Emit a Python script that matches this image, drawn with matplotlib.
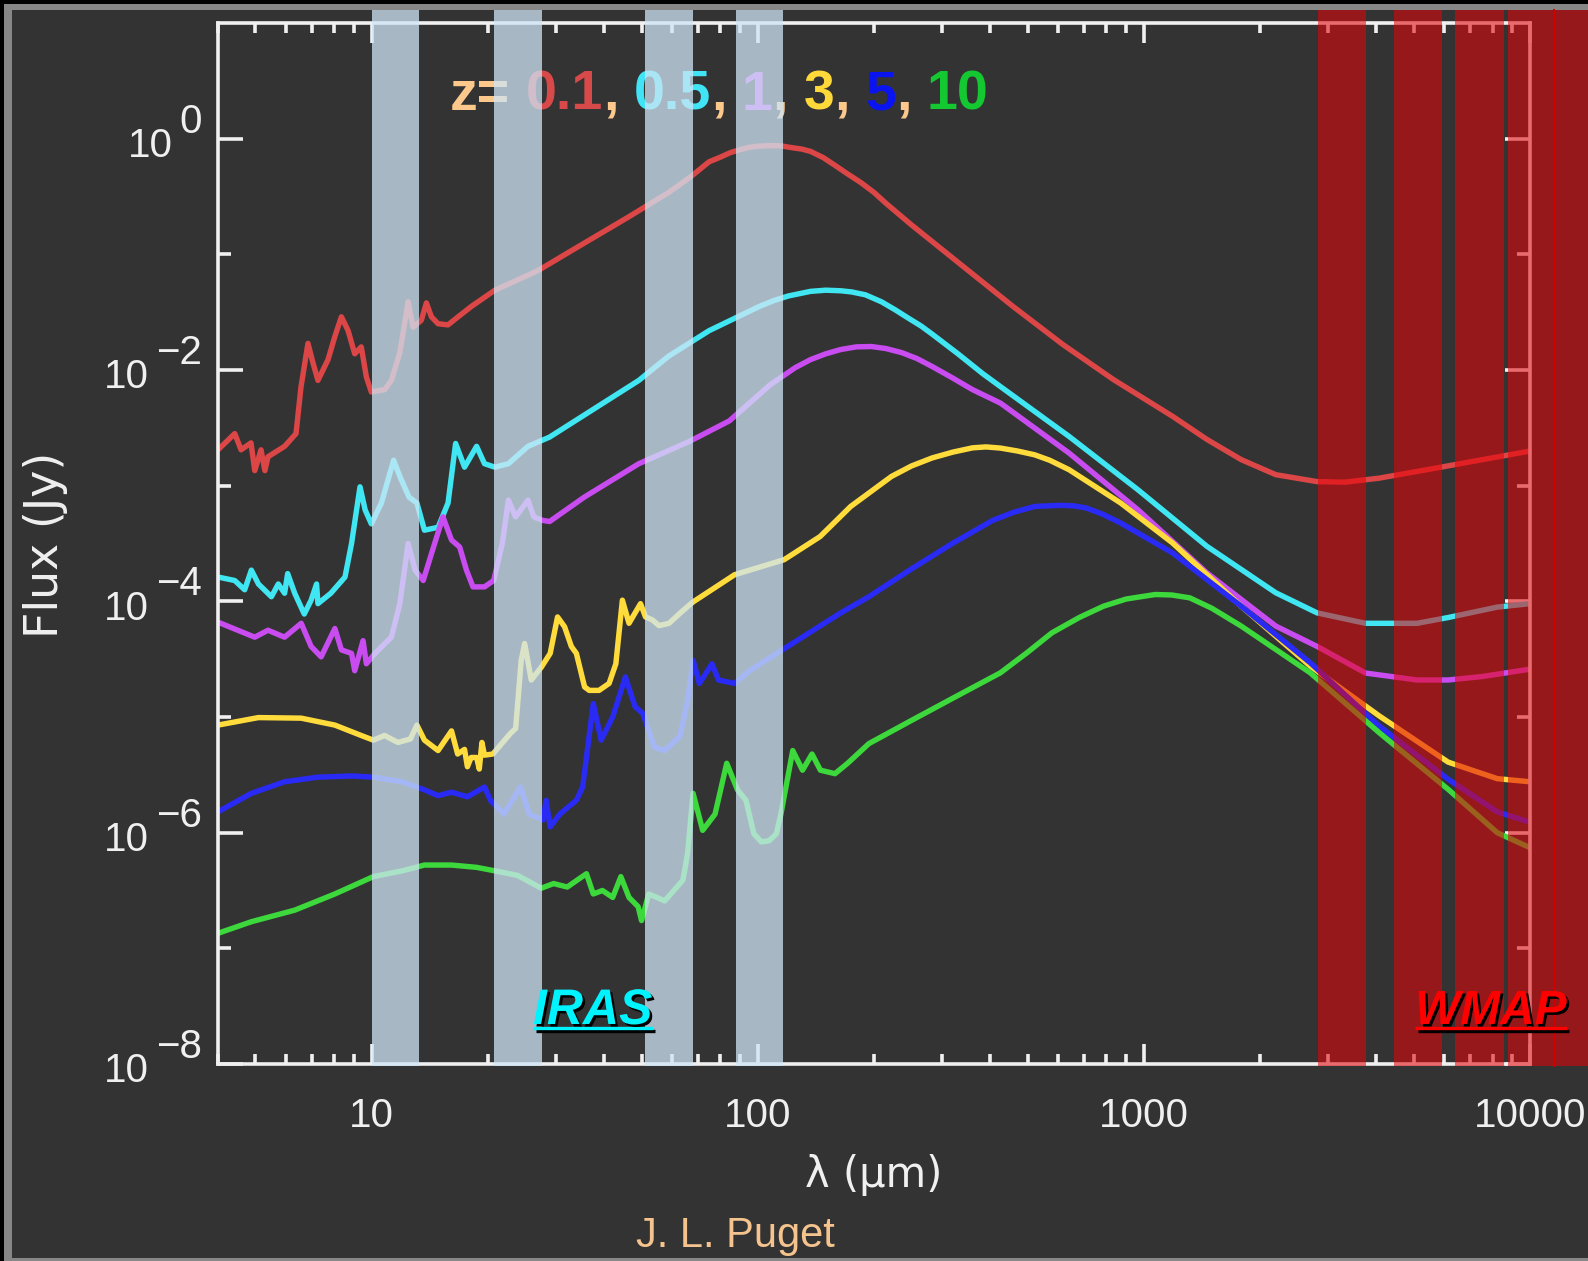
import numpy as np
import matplotlib
matplotlib.use("Agg")
import matplotlib.pyplot as plt
import matplotlib.ticker as mticker
from matplotlib.patches import Rectangle
from matplotlib.lines import Line2D
from matplotlib.transforms import IdentityTransform, blended_transform_factory
from matplotlib import patheffects as pe

# ---------------------------------------------------------------- data
# Spectral energy distributions of a model galaxy seen at several redshifts
# wavelength in micron, flux as log10(Jy)
lam_z01 = [4.0, 4.42, 4.59, 4.87, 4.98, 5.17, 5.29, 5.39, 5.95, 6.37,
           6.56, 6.84, 7.05, 7.26, 7.71, 8.03, 8.35, 8.69, 9.04, 9.40,
           9.69, 9.98, 10.81, 11.25, 11.83, 12.43, 12.80, 13.45, 13.86, 14.28,
           14.86, 15.77, 16.75, 18.13, 20.85, 26.98, 32.1, 46.1, 58.8, 67,
           74.8, 80, 85, 90, 95, 100, 108, 115, 121, 130,
           137, 148, 160, 170, 185, 200, 215, 250,
           339, 458, 617, 836, 1186, 1456, 1787, 2196, 2810, 3311,
           4067, 5535, 7528, 9842, 10000]
logf_z01 = [-2.69, -2.55, -2.69, -2.63, -2.87, -2.69, -2.87, -2.75, -2.66, -2.55,
            -2.15, -1.77, -1.94, -2.09, -1.91, -1.71, -1.54, -1.66, -1.86, -1.80,
            -2.06, -2.19, -2.17, -2.09, -1.85, -1.41, -1.63, -1.57, -1.42, -1.54,
            -1.60, -1.61, -1.54, -1.45, -1.31, -1.14, -0.99, -0.68, -0.465, -0.33,
            -0.20, -0.16, -0.12, -0.095, -0.075, -0.065, -0.06, -0.062, -0.075, -0.09,
            -0.11, -0.165, -0.24, -0.30, -0.38, -0.465, -0.56, -0.745,
            -1.10, -1.45, -1.78, -2.085, -2.40, -2.60, -2.775, -2.905, -2.965, -2.97,
            -2.935, -2.856, -2.775, -2.705, -2.70]

lam_z05 = [4.0, 4.42, 4.69, 4.88, 5.09, 5.5, 5.73, 5.95, 6.06, 6.32,
           6.69, 6.97, 7.2, 7.26, 7.84, 8.53, 8.87, 9.33, 9.62, 9.98,
           10.6, 11.4, 11.83, 12.5, 13.1, 13.7, 14.86, 15.77, 16.5, 17.4,
           18.7, 19.6, 20.85, 22.6, 25.4, 28.9, 49.2, 58.8, 74.8, 101,
           110, 120, 137, 150, 164, 175, 190, 209, 227, 245,
           265, 283, 330, 382, 425, 640,
           965, 1456, 2196, 2810, 3750, 5100, 6137, 8225, 10000]
logf_z05 = [-3.79, -3.82, -3.90, -3.73, -3.85, -3.96, -3.85, -3.93, -3.76, -3.93,
            -4.11, -3.99, -3.85, -4.02, -3.93, -3.79, -3.50, -3.01, -3.21, -3.33,
            -3.15, -2.78, -2.92, -3.10, -3.15, -3.385, -3.36, -3.15, -2.635, -2.84,
            -2.66, -2.81, -2.84, -2.81, -2.66, -2.58, -2.09, -1.88, -1.66, -1.45,
            -1.40, -1.36, -1.32, -1.31, -1.315, -1.325, -1.35, -1.41, -1.48, -1.55,
            -1.62, -1.69, -1.86, -2.03, -2.143, -2.574,
            -3.035, -3.524, -3.926, -4.10, -4.19, -4.19, -4.14, -4.05, -4.02]

lam_z1 = [4.0, 4.5, 4.98, 5.39, 5.95, 6.57, 6.97, 7.4, 8.03, 8.35,
          8.87, 9.04, 9.5, 9.69, 10.2, 11.25, 11.83, 12.43, 12.96, 13.6,
          14.28, 15.3, 16.1, 16.9, 17.6, 18.3, 19.6, 20.7, 21.8, 22.6,
          23.6, 25.4, 26.3, 27.7, 28.9, 35.5, 49.2, 66.3, 84.4, 107.5,
          125, 137, 150, 164, 180, 197, 215, 236, 258, 283,
          320, 360, 425, 640, 965,
          1456, 2196, 2810, 3750, 5100, 6137, 7528, 9842, 10000]
logf_z1 = [-4.18, -4.25, -4.31, -4.25, -4.31, -4.19, -4.39, -4.48, -4.235, -4.42,
           -4.45, -4.60, -4.34, -4.54, -4.45, -4.31, -4.02, -3.50, -3.73, -3.82,
           -3.59, -3.27, -3.47, -3.53, -3.73, -3.875, -3.875, -3.82, -3.50, -3.125,
           -3.27, -3.125, -3.27, -3.30, -3.31, -3.10, -2.81, -2.62, -2.44, -2.13,
           -1.98, -1.91, -1.86, -1.823, -1.80, -1.797, -1.815, -1.85, -1.90, -1.97,
           -2.07, -2.17, -2.286, -2.718, -3.208,
           -3.754, -4.214, -4.39, -4.62, -4.68, -4.68, -4.65, -4.59, -4.585]

lam_z3 = [4.0, 5.09, 6.57, 8.03, 9.4, 10.1, 10.8, 11.7, 12.6, 13.1,
          13.7, 14.86, 16.1, 16.7, 17.4, 17.7, 18.1, 18.7, 19.0, 19.3,
          19.6, 20.6, 22.9, 23.6, 24.4, 24.9, 25.9, 27.5, 29.0, 30.3,
          31.6, 32.9, 33.9, 35.6, 36.6, 38.8, 41.2, 42.9, 44.6, 46.4,
          49.7, 51.2, 53.3, 55.5, 58.9, 64, 68, 87.1, 117, 145,
          174, 222, 250, 283, 320, 360, 390, 425, 470, 521,
          570, 640, 871, 1186, 1787,
          2697, 4067, 6137, 8225, 10000]
logf_z3 = [-5.07, -5.005, -5.01, -5.07, -5.16, -5.20, -5.16, -5.22, -5.19, -5.07,
           -5.20, -5.29, -5.12, -5.32, -5.28, -5.43, -5.35, -5.35, -5.45, -5.22,
           -5.33, -5.32, -5.14, -5.10, -4.51, -4.365, -4.68, -4.57, -4.45, -4.135,
           -4.22, -4.39, -4.45, -4.74, -4.77, -4.77, -4.71, -4.54, -3.99, -4.19,
           -4.02, -4.135, -4.16, -4.21, -4.19, -4.08, -4.005, -3.77, -3.64, -3.44,
           -3.18, -2.92, -2.83, -2.76, -2.71, -2.673, -2.665, -2.675, -2.70, -2.733,
           -2.78, -2.862, -3.15, -3.495, -4.042,
           -4.56, -4.99, -5.39, -5.533, -5.56]

lam_z5 = [4.0, 4.88, 5.95, 7.26, 8.87, 10.1, 12.0, 13.7, 14.86, 16.1,
          17.7, 19.6, 20.3, 22.0, 24.3, 25.6, 27.8, 28.3, 29.0, 30.7,
          33.9, 35.2, 37.5, 39.3, 42.1, 45.4, 48.1, 50.4, 54, 57.4,
          62.8, 65.8, 68, 70.6, 76.1, 79.1, 87.1, 95.2, 117, 164,
          194, 250, 319, 406, 460, 521, 560, 610, 660, 709,
          780, 871, 1186, 1787,
          2697, 4067, 6137, 8225, 10000]
logf_z5 = [-5.82, -5.66, -5.56, -5.52, -5.51, -5.52, -5.56, -5.63, -5.68, -5.65,
           -5.69, -5.605, -5.72, -5.84, -5.605, -5.84, -5.89, -5.72, -5.95, -5.84,
           -5.72, -5.605, -4.884, -5.20, -5.0, -4.654, -4.91, -4.97, -5.26, -5.29,
           -5.17, -4.86, -4.51, -4.71, -4.54, -4.68, -4.71, -4.60, -4.41, -4.10,
           -3.96, -3.72, -3.50, -3.30, -3.23, -3.18, -3.175, -3.17, -3.175, -3.193,
           -3.245, -3.323, -3.581, -4.042,
           -4.531, -5.078, -5.538, -5.82, -5.91]

lam_z10 = [4.0, 4.88, 6.32, 8.03, 10.1, 12.0, 13.7, 16.1, 18.7, 20.85,
           23.9, 27.5, 29.6, 32.1, 36.0, 37.5, 39.6, 42.1, 44.2, 46.4,
           49.0, 50.0, 52.2, 57.4, 64, 65.8, 68, 72, 77.5, 83.1,
           88.6, 93.2, 97.7, 102.2, 107, 111.7, 114.8, 123.2, 130.6, 138.2,
           145.3, 158.5, 170.9, 194, 250, 319, 425, 500, 578, 680,
           786, 900, 1070, 1180, 1315, 1500, 1787,
           2697, 4067, 6137, 8225, 10000]
logf_z10 = [-6.87, -6.77, -6.67, -6.53, -6.38, -6.33, -6.28, -6.28, -6.30, -6.33,
            -6.37, -6.48, -6.44, -6.47, -6.355, -6.53, -6.50, -6.56, -6.38, -6.56,
            -6.64, -6.76, -6.53, -6.59, -6.41, -6.18, -5.66, -5.98, -5.84, -5.40,
            -5.63, -5.72, -6.01, -6.08, -6.07, -6.01, -5.84, -5.29, -5.46, -5.32,
            -5.46, -5.49, -5.40, -5.23, -5.03, -4.84, -4.618, -4.44, -4.272, -4.14,
            -4.042, -3.98, -3.941, -3.945, -3.97, -4.06, -4.214,
            -4.618, -5.135, -5.625, -6.0, -6.13]

redshift_labels = ["0.1", "0.5", "1", "3", "5", "10"]
series = [(lam_z01, logf_z01), (lam_z05, logf_z05), (lam_z1, logf_z1),
          (lam_z3, logf_z3), (lam_z5, logf_z5), (lam_z10, logf_z10)]
curve_colors = ["#dc4646", "#40e6f2", "#c84cf0", "#ffdc3c", "#2a2af5", "#3cd83c"]
label_colors = ["#d84a4a", "#40e4f5", "#c84cf0", "#ffd83a", "#0a14f0", "#14c832"]

# instrument passbands (micron)
iras_bands = [(10.0, 13.3), (20.8, 27.6), (51.0, 68.0), (88.0, 116.0)]
wmap_bands = [(2830, 3770), (4450, 5930), (6410, 8540), (8790, 14500)]
wmap_edge = 11570

x_ticks = [10, 100, 1000, 10000]
y_label_exps = [0, -2, -4, -6, -8]
y_minor_exps = [-1, -3, -5, -7]

# ---------------------------------------------------------------- figure
W, H = 1588, 1261
plt.rcParams["font.family"] = ["Liberation Sans", "DejaVu Sans"]
fig = plt.figure(figsize=(W / 100, H / 100), dpi=100, facecolor="black")
pix = IdentityTransform()

# grey frame and dark panel
fig.add_artist(Rectangle((4 / W, 0), 1, (H - 4) / H, transform=fig.transFigure,
                         facecolor="#878787", edgecolor="none", zorder=-10))
fig.add_artist(Rectangle((12 / W, 3 / H), 1, (H - 13) / H, transform=fig.transFigure,
                         facecolor="#333333", edgecolor="none", zorder=-9))

ax_l, ax_r, ax_t, ax_b = 218, 1530, 23, 1064
ax = fig.add_axes([ax_l / W, (H - ax_b) / H, (ax_r - ax_l) / W, (ax_b - ax_t) / H])
ax.set_facecolor("none")
ax.set_xscale("log")
ax.set_yscale("log")
ax.set_xlim(4, 1e4)
ax.set_ylim(1e-8, 10)

for (lam, lf), c in zip(series, curve_colors):
    ax.plot(lam, 10.0 ** np.array(lf), color=c, lw=3.9, zorder=2,
            solid_joinstyle="round", solid_capstyle="round")

# axes frame and ticks
white = "#f0f0f0"
for sp in ax.spines.values():
    sp.set_color(white)
    sp.set_linewidth(2.6)
ax.xaxis.set_major_locator(mticker.FixedLocator(x_ticks))
ax.xaxis.set_minor_locator(mticker.LogLocator(base=10, subs=np.arange(2, 10), numticks=20))
ax.xaxis.set_major_formatter(mticker.FixedFormatter([str(v) for v in x_ticks]))
ax.xaxis.set_minor_formatter(mticker.NullFormatter())
ax.yaxis.set_major_locator(mticker.FixedLocator([10.0 ** e for e in y_label_exps]))
ax.yaxis.set_minor_locator(mticker.FixedLocator([10.0 ** e for e in y_minor_exps]))
ax.yaxis.set_major_formatter(mticker.NullFormatter())
ax.yaxis.set_minor_formatter(mticker.NullFormatter())
ax.tick_params(which="both", direction="in", top=True, right=True, color=white, width=2.6)
ax.tick_params(axis="x", which="major", length=14.4, labelsize=29, labelcolor=white, pad=24)
ax.tick_params(axis="x", which="minor", length=7.2)
ax.tick_params(axis="y", which="major", length=18)
ax.tick_params(axis="y", which="minor", length=9.4)

# passband overlays, running from the top frame down to the x axis
band_tr = blended_transform_factory(ax.transData, ax.transAxes)
y0 = -2 / (ax_b - ax_t)
y1 = (ax_b - 10) / (ax_b - ax_t)
for lo, hi in iras_bands:
    ax.add_patch(Rectangle((lo, y0), hi - lo, y1 - y0, transform=band_tr, clip_on=False,
                           facecolor=(207 / 255, 230 / 255, 246 / 255), alpha=0.75,
                           edgecolor="none", zorder=3))
for lo, hi in wmap_bands:
    ax.add_patch(Rectangle((lo, y0), hi - lo, y1 - y0, transform=band_tr, clip_on=False,
                           facecolor=(228 / 255, 3 / 255, 8 / 255), alpha=0.56,
                           edgecolor="none", zorder=3))
ax.add_line(Line2D([wmap_edge, wmap_edge], [y0, y1], transform=band_tr, clip_on=False,
                   color="#d20000", lw=1.4, zorder=3.1))

renderer = fig.canvas.get_renderer()


def ink_width(s, **kw):
    t = fig.text(0, 0, s, transform=pix, **kw)
    w = t.get_window_extent(renderer=renderer).width
    t.remove()
    return w


# y tick labels: "10" with an exponent of the same size
ylab_kw = dict(fontsize=29, color=white, family=["Liberation Sans", "DejaVu Sans"])
x_spine = ax.transAxes.transform((0, 0))[0]
for e in y_label_exps:
    ty = ax.transData.transform((4, 10.0 ** e))[1]
    exp_s = "0" if e == 0 else "\u2212" + str(-e)
    xr = x_spine - 16
    fig.text(xr, ty + 6, exp_s, ha="right", va="baseline", transform=pix, **ylab_kw)
    fig.text(xr - ink_width(exp_s, **ylab_kw) - 7, ty - 18.5, "10", ha="right",
             va="baseline", transform=pix, **ylab_kw)

# axis titles and credit
fig.text(874, 74, "\u03bb (\u03bcm)", ha="center", va="baseline", transform=pix,
         fontsize=30, color=white, family="DejaVu Sans")
fig.text(46, H - 545, "Flux (Jy)", ha="center", va="center", rotation=90, transform=pix,
         fontsize=33, color=white, family="DejaVu Sans")
fig.text(735, H - 1247, "J. L. Puget", ha="center", va="baseline", transform=pix,
         fontsize=30, color="#f5c48e")

# multicoloured redshift legend (sits beneath the passband overlays)
peach = "#fcc88c"
pieces = [("z=", peach)]
for i, (lab, col) in enumerate(zip(redshift_labels, label_colors)):
    pieces.append((" ", None))
    pieces.append((lab, col))
    if i < len(redshift_labels) - 1:
        pieces.append((",", peach))
title_kw = dict(fontsize=40, fontweight="bold", family="Liberation Sans")
full = ""
x0, base = 450, H - 110
for txt, col in pieces:
    if col is not None:
        x = x0 if not full else x0 + ink_width(full + txt, **title_kw) - ink_width(txt, **title_kw)
        ax.text(x, base, txt, transform=pix, ha="left", va="baseline", color=col,
                zorder=2.8, clip_on=False, **title_kw)
    full += txt


# instrument names: bold italic, underlined, with a black drop shadow
def shadow_label(s, x, y, color, size):
    kw = dict(fontsize=size, fontweight="bold", fontstyle="italic", family="Liberation Sans")
    t = fig.text(x, y, s, ha="left", va="baseline", transform=pix, color=color, zorder=6,
                 path_effects=[pe.SimplePatchShadow(offset=(1.8, -1.8), shadow_rgbFace="black",
                                                    alpha=1.0), pe.Normal()], **kw)
    bb = t.get_window_extent(renderer=renderer)
    fig.add_artist(Line2D([bb.x0, bb.x1], [y - 4, y - 4], transform=pix, color=color, lw=2.4,
                          zorder=6, solid_capstyle="butt",
                          path_effects=[pe.SimpleLineShadow(offset=(1.8, -1.8),
                                                            shadow_color="black", alpha=1.0),
                                        pe.Normal()]))


shadow_label("IRAS", 533, H - 1024, "#00f4ff", 36)
shadow_label("WMAP", 1415, H - 1024, "#ff0000", 34.5)

fig.savefig("out.png", dpi=100, facecolor=fig.get_facecolor())
